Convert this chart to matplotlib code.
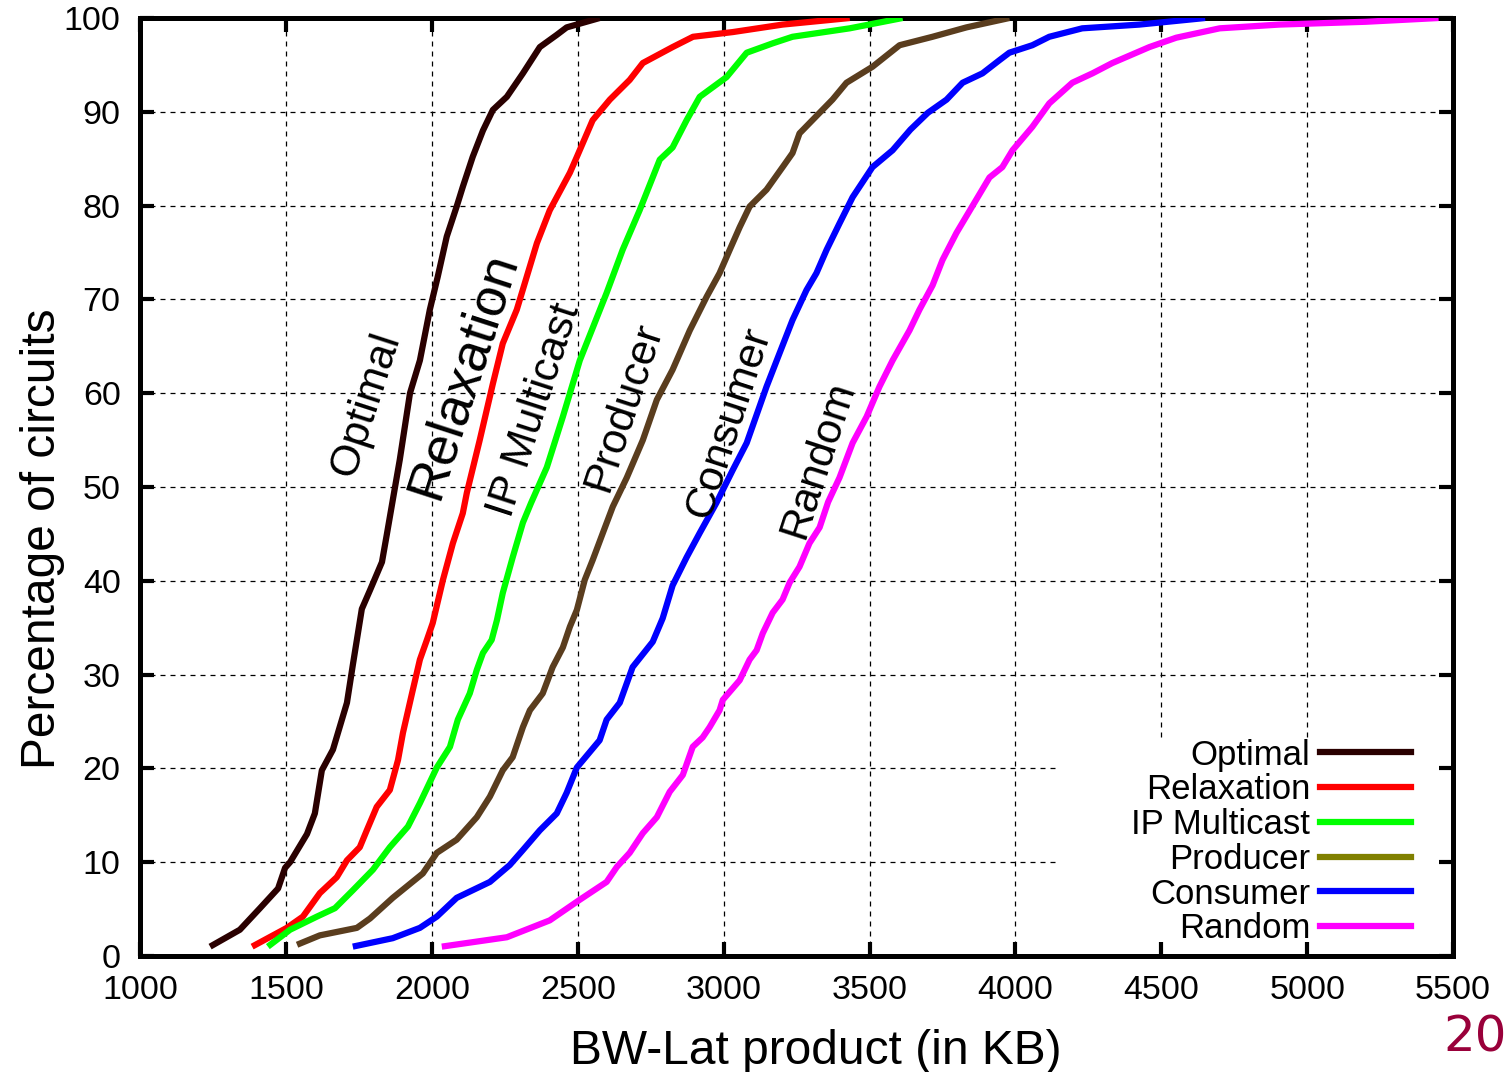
import matplotlib
matplotlib.use("Agg")
import matplotlib.pyplot as plt
from matplotlib.lines import Line2D

plt.rcParams['font.family'] = ['Liberation Sans', 'DejaVu Sans']

# CDF curves: (BW-Lat product in KB, percentage of circuits)
optimal_x = [1240, 1342, 1411, 1473, 1497, 1514, 1572, 1599, 1623, 1661, 1709, 1729, 1760,
             1788, 1829, 1846, 1866, 1890, 1925, 1959, 1993, 2020, 2051, 2085, 2106, 2140,
             2175, 2209, 2257, 2312, 2370, 2428, 2462, 2575]
optimal_y = [1, 2.8, 5.1, 7.2, 9.4, 10, 13, 15.2, 19.8, 22, 27, 31, 37,
             39, 42, 45, 48.6, 52.9, 60, 63.5, 68.9, 72.4, 76.7, 79.9, 82, 85.2,
             88, 90.2, 91.6, 94.1, 96.9, 98.2, 99, 100]

relax_x = [1384, 1503, 1558, 1616, 1674, 1709, 1753, 1777, 1811, 1856, 1884, 1901, 1932,
           1959, 1983, 2003, 2038, 2072, 2106, 2120, 2164, 2209, 2243, 2291, 2325, 2360,
           2404, 2473, 2497, 2551, 2610, 2678, 2723, 2825, 2895, 3031, 3202, 3432]
relax_y = [1, 3, 4.2, 6.7, 8.4, 10.2, 11.6, 13.4, 15.9, 17.7, 20.9, 23.8, 28,
           31.6, 33.7, 35.5, 40.1, 44, 47.2, 49.4, 55, 61, 65.3, 68.9, 72.4, 76,
           79.5, 83.5, 85.2, 89.1, 91.3, 93.4, 95.2, 96.9, 98, 98.5, 99.3, 100]

ipm_x = [1438, 1514, 1606, 1668, 1729, 1798, 1856, 1918, 1959, 2017, 2062, 2089, 2130,
         2154, 2175, 2205, 2223, 2243, 2277, 2312, 2340, 2394, 2449, 2507, 2599, 2654,
         2712, 2781, 2825, 2873, 2918, 3010, 3079, 3168, 3236, 3432, 3613]
ipm_y = [1, 2.8, 4.2, 5.1, 7, 9.2, 11.6, 13.8, 16.3, 20.1, 22.3, 25.2, 28,
         30.5, 32.3, 33.7, 35.8, 38.7, 42.5, 46.2, 48.3, 52.1, 57.5, 63.5, 70.7, 75.3,
         79.5, 84.9, 86.2, 89.1, 91.6, 93.7, 96.3, 97.3, 98, 98.9, 100]

prod_x = [1538, 1616, 1743, 1788, 1866, 1969, 2017, 2085, 2154, 2199, 2243, 2277, 2312,
          2336, 2380, 2414, 2449, 2473, 2497, 2524, 2551, 2586, 2620, 2668, 2723, 2771,
          2825, 2884, 2942, 2986, 3021, 3055, 3089, 3147, 3202, 3236, 3260, 3329, 3373,
          3421, 3510, 3603, 3716, 3832, 3979]
prod_y = [1.2, 2.2, 3, 4, 6.2, 8.8, 11, 12.4, 14.8, 17, 19.8, 21.2, 24.4,
          26.2, 28, 30.8, 32.9, 35.1, 36.9, 40.1, 42.2, 45.1, 47.9, 51, 55, 59.3,
          62.5, 66.7, 70.3, 72.8, 75.3, 77.7, 79.9, 81.7, 84.1, 85.6, 87.7, 89.9, 91.3,
          93.1, 94.8, 97.1, 98, 99, 100]

cons_x = [1729, 1866, 1959, 2017, 2085, 2199, 2267, 2312, 2370, 2428, 2462, 2497, 2575,
          2599, 2644, 2688, 2757, 2791, 2825, 2873, 2918, 2975, 3031, 3079, 3147, 3182,
          3236, 3284, 3318, 3353, 3397, 3442, 3510, 3579, 3640, 3700, 3764, 3819, 3887,
          3945, 3979, 4058, 4116, 4229, 4425, 4650]
cons_y = [1, 1.9, 3, 4.2, 6.2, 7.9, 9.7, 11.3, 13.4, 15.2, 17.4, 20.1, 23,
          25.2, 27, 30.8, 33.5, 36, 39.5, 42.5, 45.1, 48.3, 51.8, 54.7, 60.7, 63.5,
          67.8, 71, 72.8, 75.3, 78.1, 80.9, 84.1, 85.9, 88.1, 89.9, 91.3, 93.1, 94.1,
          95.5, 96.3, 97.1, 98, 98.9, 99.3, 100]

rand_x = [2034, 2257, 2404, 2507, 2599, 2634, 2678, 2723, 2771, 2815, 2860, 2894, 2928,
          2952, 2986, 2997, 3055, 3089, 3113, 3134, 3168, 3202, 3226, 3260, 3294, 3329,
          3358, 3397, 3442, 3490, 3534, 3579, 3637, 3671, 3716, 3750, 3798, 3842, 3911,
          3955, 3990, 4058, 4116, 4195, 4264, 4332, 4459, 4551, 4700, 4904, 5200, 5450]
rand_y = [1, 2, 3.8, 6, 7.9, 9.5, 11, 13.1, 14.8, 17.5, 19.3, 22.3, 23.3,
          24.4, 26.2, 27.3, 29.4, 31.6, 32.6, 34.4, 36.6, 38, 39.8, 41.5, 44, 45.7,
          48.4, 51, 54.7, 57.5, 60.7, 63.5, 66.7, 68.9, 71.5, 74.2, 77.1, 79.4, 83,
          84.1, 85.9, 88.4, 90.9, 93.1, 94.1, 95.2, 96.9, 97.9, 98.9, 99.3, 99.6, 100]

names = ['Optimal', 'Relaxation', 'IP Multicast', 'Producer', 'Consumer', 'Random']
series = [(optimal_x, optimal_y), (relax_x, relax_y), (ipm_x, ipm_y),
          (prod_x, prod_y), (cons_x, cons_y), (rand_x, rand_y)]
line_colors = ['#2a0000', '#ff0000', '#00ff00', '#5a3d1e', '#0000ff', '#ff00ff']
legend_colors = ['#2a0000', '#ff0000', '#00ff00', '#808000', '#0000ff', '#ff00ff']

xticks = list(range(1000, 5501, 500))
yticks = list(range(0, 101, 10))

fig = plt.figure(figsize=(15.11, 10.72), dpi=100)
ax = fig.add_axes([0.0927, 0.1082, 0.869, 0.875])

for (xs, ys), c in zip(series, line_colors):
    ax.plot(xs, ys, color=c, lw=4.5, solid_capstyle='butt', zorder=3)

ax.set_xlim(1000, 5500)
ax.set_ylim(0, 100)
ax.set_xticks(xticks)
ax.set_yticks(yticks)
ax.tick_params(direction='in', length=10, width=3, labelsize=24.5, pad=14,
               top=True, right=True)
for s in ax.spines.values():
    s.set_linewidth(3.6)

# dashed grid, left out behind the key in the lower right corner
key_left, key_top = 0.7, 0.233
grid_style = dict(color='black', linestyle=(0, (4, 4)), linewidth=0.9, zorder=1)
for xv in xticks[1:-1]:
    ymin = key_top if (xv - 1000) / 4500 > key_left else 0
    ax.axvline(xv, ymin=ymin, ymax=1, **grid_style)
for yv in yticks[1:-1]:
    xmax = key_left if yv / 100 < key_top else 1
    ax.axhline(yv, xmin=0, xmax=xmax, **grid_style)

ax.set_xlabel('BW-Lat product (in KB)', fontsize=34.5)
ax.set_ylabel('Percentage of circuits', fontsize=34.5)
ax.xaxis.set_label_coords(0.515, -0.0778)
ax.yaxis.set_label_coords(-0.057, 0.445)

# curve labels
label_pos = [(1773, 58.8, 31), (2107, 62, 39), (2354, 58.2, 31),
             (2657, 58.6, 31), (3020, 56.9, 31), (3325, 52.9, 31)]
for name, (lx, ly, fs) in zip(names, label_pos):
    ax.text(lx, ly, name, rotation=72, fontsize=fs, ha='center', va='center', zorder=4)

handles = [Line2D([], [], color=c, lw=4.5) for c in legend_colors]
leg = ax.legend(handles, names, loc='lower right', bbox_to_anchor=(0.973, 0.004),
                fontsize=25, markerfirst=False,
                handlelength=2.6, handletextpad=0.3, labelspacing=0.05,
                borderpad=0.2, borderaxespad=0.0, frameon=False)
for t in leg.get_texts():
    t.set_ha('right')

fig.text(0.997, 0.032, '20', fontsize=36, color='#99003a', ha='right', va='center',
         family='DejaVu Sans')

fig.savefig('out.png', dpi=100)
